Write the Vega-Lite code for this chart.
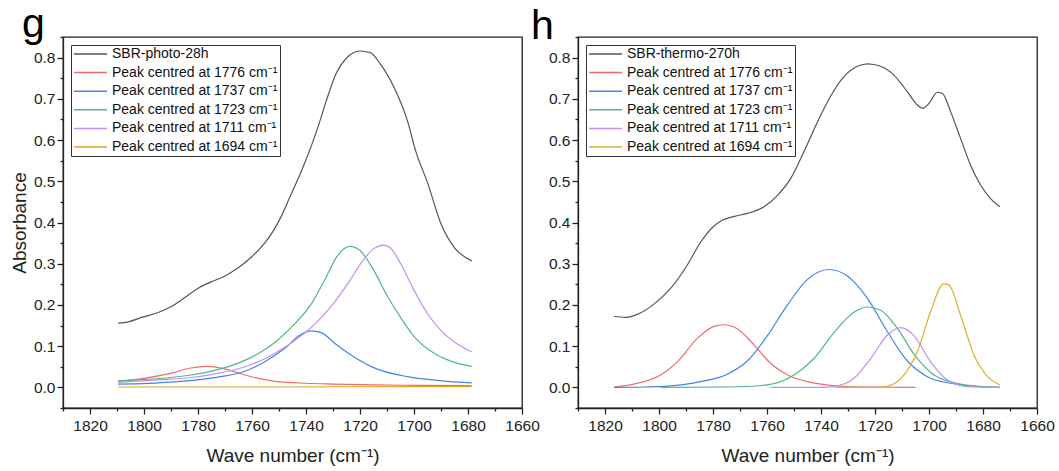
{
  "$schema": "https://vega.github.io/schema/vega-lite/v6.json",
  "padding": {"left": 9, "top": 3, "right": 2, "bottom": 2},
  "background": "white",
  "config": {
    "font": "Liberation Sans",
    "view": {"stroke": "#222", "strokeWidth": 1.3},
    "axis": {
      "labelFont": "Liberation Sans", "labelFontSize": 15.5, "labelColor": "#222",
      "titleFont": "Liberation Sans", "titleFontSize": 19, "titleFontWeight": "normal", "titleColor": "#222",
      "domainColor": "#222", "domainWidth": 1.3, "tickColor": "#222", "tickWidth": 1.3,
      "grid": false, "labelOverlap": false, "labelFlush": false, "labelPadding": 2
    },
    "legend": {
      "orient": "top-left", "offset": 8, "padding": 2, "strokeColor": "#333", "fillColor": "white",
      "labelFont": "Liberation Sans", "labelFontSize": 14, "labelColor": "#111", "labelLimit": 400,
      "symbolType": "stroke", "symbolSize": 1089, "symbolStrokeWidth": 1.5,
      "clipHeight": 14, "rowPadding": 4.6, "labelOffset": 4
    },
    "title": {"font": "Liberation Sans", "fontWeight": "normal", "fontSize": 41, "color": "#000", "anchor": "start", "frame": "group"}
  },
  "datasets": {
    "g": [
      {"s": "SBR-photo-28h", "x": 1809.6, "y": 0.156},
      {"s": "SBR-photo-28h", "x": 1807.5, "y": 0.157},
      {"s": "SBR-photo-28h", "x": 1800.2, "y": 0.171},
      {"s": "SBR-photo-28h", "x": 1795, "y": 0.181},
      {"s": "SBR-photo-28h", "x": 1790.2, "y": 0.195},
      {"s": "SBR-photo-28h", "x": 1784.6, "y": 0.219},
      {"s": "SBR-photo-28h", "x": 1780.1, "y": 0.24},
      {"s": "SBR-photo-28h", "x": 1775.1, "y": 0.256},
      {"s": "SBR-photo-28h", "x": 1770.7, "y": 0.268},
      {"s": "SBR-photo-28h", "x": 1765.1, "y": 0.29},
      {"s": "SBR-photo-28h", "x": 1760.1, "y": 0.317},
      {"s": "SBR-photo-28h", "x": 1755.1, "y": 0.352},
      {"s": "SBR-photo-28h", "x": 1752.3, "y": 0.378},
      {"s": "SBR-photo-28h", "x": 1749.3, "y": 0.413},
      {"s": "SBR-photo-28h", "x": 1746.3, "y": 0.457},
      {"s": "SBR-photo-28h", "x": 1741.3, "y": 0.531},
      {"s": "SBR-photo-28h", "x": 1735.7, "y": 0.629},
      {"s": "SBR-photo-28h", "x": 1732.5, "y": 0.695},
      {"s": "SBR-photo-28h", "x": 1728.8, "y": 0.762},
      {"s": "SBR-photo-28h", "x": 1725.0, "y": 0.799},
      {"s": "SBR-photo-28h", "x": 1720.0, "y": 0.816},
      {"s": "SBR-photo-28h", "x": 1716.2, "y": 0.812},
      {"s": "SBR-photo-28h", "x": 1712.5, "y": 0.785},
      {"s": "SBR-photo-28h", "x": 1707.4, "y": 0.728},
      {"s": "SBR-photo-28h", "x": 1702.4, "y": 0.646},
      {"s": "SBR-photo-28h", "x": 1699.3, "y": 0.572},
      {"s": "SBR-photo-28h", "x": 1694.9, "y": 0.495},
      {"s": "SBR-photo-28h", "x": 1689.9, "y": 0.395},
      {"s": "SBR-photo-28h", "x": 1684.9, "y": 0.338},
      {"s": "SBR-photo-28h", "x": 1678.6, "y": 0.307},
      {"s": "Peak centred at 1776 cm⁻¹", "x": 1809.6, "y": 0.015},
      {"s": "Peak centred at 1776 cm⁻¹", "x": 1800.2, "y": 0.022},
      {"s": "Peak centred at 1776 cm⁻¹", "x": 1790.2, "y": 0.034},
      {"s": "Peak centred at 1776 cm⁻¹", "x": 1782.7, "y": 0.047},
      {"s": "Peak centred at 1776 cm⁻¹", "x": 1776.4, "y": 0.051},
      {"s": "Peak centred at 1776 cm⁻¹", "x": 1770.1, "y": 0.045},
      {"s": "Peak centred at 1776 cm⁻¹", "x": 1762.6, "y": 0.03},
      {"s": "Peak centred at 1776 cm⁻¹", "x": 1752.6, "y": 0.016},
      {"s": "Peak centred at 1776 cm⁻¹", "x": 1740, "y": 0.01},
      {"s": "Peak centred at 1776 cm⁻¹", "x": 1730, "y": 0.008},
      {"s": "Peak centred at 1776 cm⁻¹", "x": 1715, "y": 0.006},
      {"s": "Peak centred at 1776 cm⁻¹", "x": 1700, "y": 0.005},
      {"s": "Peak centred at 1776 cm⁻¹", "x": 1678.6, "y": 0.004},
      {"s": "Peak centred at 1737 cm⁻¹", "x": 1809.6, "y": 0.008},
      {"s": "Peak centred at 1737 cm⁻¹", "x": 1790, "y": 0.013},
      {"s": "Peak centred at 1737 cm⁻¹", "x": 1772.6, "y": 0.025},
      {"s": "Peak centred at 1737 cm⁻¹", "x": 1762.6, "y": 0.039},
      {"s": "Peak centred at 1737 cm⁻¹", "x": 1755.1, "y": 0.063},
      {"s": "Peak centred at 1737 cm⁻¹", "x": 1747.6, "y": 0.096},
      {"s": "Peak centred at 1737 cm⁻¹", "x": 1742.6, "y": 0.125},
      {"s": "Peak centred at 1737 cm⁻¹", "x": 1738.2, "y": 0.137},
      {"s": "Peak centred at 1737 cm⁻¹", "x": 1734.4, "y": 0.133},
      {"s": "Peak centred at 1737 cm⁻¹", "x": 1728.8, "y": 0.104},
      {"s": "Peak centred at 1737 cm⁻¹", "x": 1722.5, "y": 0.075},
      {"s": "Peak centred at 1737 cm⁻¹", "x": 1715, "y": 0.048},
      {"s": "Peak centred at 1737 cm⁻¹", "x": 1702.4, "y": 0.026},
      {"s": "Peak centred at 1737 cm⁻¹", "x": 1689.9, "y": 0.016},
      {"s": "Peak centred at 1737 cm⁻¹", "x": 1678.6, "y": 0.011},
      {"s": "Peak centred at 1723 cm⁻¹", "x": 1809.6, "y": 0.016},
      {"s": "Peak centred at 1723 cm⁻¹", "x": 1800, "y": 0.019},
      {"s": "Peak centred at 1723 cm⁻¹", "x": 1790, "y": 0.024},
      {"s": "Peak centred at 1723 cm⁻¹", "x": 1782.7, "y": 0.03},
      {"s": "Peak centred at 1723 cm⁻¹", "x": 1772.6, "y": 0.043},
      {"s": "Peak centred at 1723 cm⁻¹", "x": 1765.1, "y": 0.059},
      {"s": "Peak centred at 1723 cm⁻¹", "x": 1757.6, "y": 0.082},
      {"s": "Peak centred at 1723 cm⁻¹", "x": 1751.3, "y": 0.11},
      {"s": "Peak centred at 1723 cm⁻¹", "x": 1745.1, "y": 0.148},
      {"s": "Peak centred at 1723 cm⁻¹", "x": 1737.6, "y": 0.207},
      {"s": "Peak centred at 1723 cm⁻¹", "x": 1732.5, "y": 0.268},
      {"s": "Peak centred at 1723 cm⁻¹", "x": 1728.8, "y": 0.315},
      {"s": "Peak centred at 1723 cm⁻¹", "x": 1723.7, "y": 0.342},
      {"s": "Peak centred at 1723 cm⁻¹", "x": 1720, "y": 0.332},
      {"s": "Peak centred at 1723 cm⁻¹", "x": 1715, "y": 0.285},
      {"s": "Peak centred at 1723 cm⁻¹", "x": 1710, "y": 0.223},
      {"s": "Peak centred at 1723 cm⁻¹", "x": 1705, "y": 0.17},
      {"s": "Peak centred at 1723 cm⁻¹", "x": 1700, "y": 0.124},
      {"s": "Peak centred at 1723 cm⁻¹", "x": 1692.4, "y": 0.082},
      {"s": "Peak centred at 1723 cm⁻¹", "x": 1686.1, "y": 0.063},
      {"s": "Peak centred at 1723 cm⁻¹", "x": 1678.6, "y": 0.051},
      {"s": "Peak centred at 1711 cm⁻¹", "x": 1809.6, "y": 0.012},
      {"s": "Peak centred at 1711 cm⁻¹", "x": 1795, "y": 0.018},
      {"s": "Peak centred at 1711 cm⁻¹", "x": 1782.7, "y": 0.024},
      {"s": "Peak centred at 1711 cm⁻¹", "x": 1772.6, "y": 0.034},
      {"s": "Peak centred at 1711 cm⁻¹", "x": 1762.6, "y": 0.05},
      {"s": "Peak centred at 1711 cm⁻¹", "x": 1755.1, "y": 0.07},
      {"s": "Peak centred at 1711 cm⁻¹", "x": 1746.3, "y": 0.104},
      {"s": "Peak centred at 1711 cm⁻¹", "x": 1737.6, "y": 0.148},
      {"s": "Peak centred at 1711 cm⁻¹", "x": 1730, "y": 0.202},
      {"s": "Peak centred at 1711 cm⁻¹", "x": 1723.7, "y": 0.26},
      {"s": "Peak centred at 1711 cm⁻¹", "x": 1718.7, "y": 0.31},
      {"s": "Peak centred at 1711 cm⁻¹", "x": 1715, "y": 0.336},
      {"s": "Peak centred at 1711 cm⁻¹", "x": 1711.2, "y": 0.345},
      {"s": "Peak centred at 1711 cm⁻¹", "x": 1708.7, "y": 0.338},
      {"s": "Peak centred at 1711 cm⁻¹", "x": 1705, "y": 0.301},
      {"s": "Peak centred at 1711 cm⁻¹", "x": 1700, "y": 0.236},
      {"s": "Peak centred at 1711 cm⁻¹", "x": 1694.9, "y": 0.178},
      {"s": "Peak centred at 1711 cm⁻¹", "x": 1689.9, "y": 0.137},
      {"s": "Peak centred at 1711 cm⁻¹", "x": 1683.7, "y": 0.104},
      {"s": "Peak centred at 1711 cm⁻¹", "x": 1678.6, "y": 0.086},
      {"s": "Peak centred at 1694 cm⁻¹", "x": 1809.6, "y": 0.001},
      {"s": "Peak centred at 1694 cm⁻¹", "x": 1750, "y": 0.001},
      {"s": "Peak centred at 1694 cm⁻¹", "x": 1700, "y": 0.002},
      {"s": "Peak centred at 1694 cm⁻¹", "x": 1694, "y": 0.002},
      {"s": "Peak centred at 1694 cm⁻¹", "x": 1678.6, "y": 0.002}
    ],
    "h": [
      {"s": "SBR-thermo-270h", "x": 1816.7, "y": 0.172},
      {"s": "SBR-thermo-270h", "x": 1812.3, "y": 0.17},
      {"s": "SBR-thermo-270h", "x": 1808, "y": 0.177},
      {"s": "SBR-thermo-270h", "x": 1801.9, "y": 0.202},
      {"s": "SBR-thermo-270h", "x": 1795.7, "y": 0.24},
      {"s": "SBR-thermo-270h", "x": 1789.5, "y": 0.297},
      {"s": "SBR-thermo-270h", "x": 1784.6, "y": 0.352},
      {"s": "SBR-thermo-270h", "x": 1780.2, "y": 0.388},
      {"s": "SBR-thermo-270h", "x": 1776.4, "y": 0.406},
      {"s": "SBR-thermo-270h", "x": 1772, "y": 0.415},
      {"s": "SBR-thermo-270h", "x": 1767.3, "y": 0.422},
      {"s": "SBR-thermo-270h", "x": 1761.1, "y": 0.438},
      {"s": "SBR-thermo-270h", "x": 1756.1, "y": 0.466},
      {"s": "SBR-thermo-270h", "x": 1751.2, "y": 0.507},
      {"s": "SBR-thermo-270h", "x": 1746.3, "y": 0.572},
      {"s": "SBR-thermo-270h", "x": 1741.3, "y": 0.644},
      {"s": "SBR-thermo-270h", "x": 1736.4, "y": 0.707},
      {"s": "SBR-thermo-270h", "x": 1731.5, "y": 0.754},
      {"s": "SBR-thermo-270h", "x": 1726.5, "y": 0.779},
      {"s": "SBR-thermo-270h", "x": 1722.8, "y": 0.785},
      {"s": "SBR-thermo-270h", "x": 1717.9, "y": 0.779},
      {"s": "SBR-thermo-270h", "x": 1712.9, "y": 0.757},
      {"s": "SBR-thermo-270h", "x": 1708, "y": 0.717},
      {"s": "SBR-thermo-270h", "x": 1704.3, "y": 0.685},
      {"s": "SBR-thermo-270h", "x": 1702.4, "y": 0.677},
      {"s": "SBR-thermo-270h", "x": 1700, "y": 0.689},
      {"s": "SBR-thermo-270h", "x": 1696.9, "y": 0.716},
      {"s": "SBR-thermo-270h", "x": 1695, "y": 0.713},
      {"s": "SBR-thermo-270h", "x": 1692, "y": 0.669},
      {"s": "SBR-thermo-270h", "x": 1688.3, "y": 0.604},
      {"s": "SBR-thermo-270h", "x": 1684.6, "y": 0.539},
      {"s": "SBR-thermo-270h", "x": 1680.9, "y": 0.491},
      {"s": "SBR-thermo-270h", "x": 1677.2, "y": 0.458},
      {"s": "SBR-thermo-270h", "x": 1673.7, "y": 0.438},
      {"s": "Peak centred at 1776 cm⁻¹", "x": 1816.7, "y": 0.001},
      {"s": "Peak centred at 1776 cm⁻¹", "x": 1809.3, "y": 0.008},
      {"s": "Peak centred at 1776 cm⁻¹", "x": 1799.4, "y": 0.03},
      {"s": "Peak centred at 1776 cm⁻¹", "x": 1793.2, "y": 0.062},
      {"s": "Peak centred at 1776 cm⁻¹", "x": 1785.8, "y": 0.119},
      {"s": "Peak centred at 1776 cm⁻¹", "x": 1779.6, "y": 0.148},
      {"s": "Peak centred at 1776 cm⁻¹", "x": 1775.9, "y": 0.152},
      {"s": "Peak centred at 1776 cm⁻¹", "x": 1771, "y": 0.142},
      {"s": "Peak centred at 1776 cm⁻¹", "x": 1764.8, "y": 0.103},
      {"s": "Peak centred at 1776 cm⁻¹", "x": 1758.6, "y": 0.058},
      {"s": "Peak centred at 1776 cm⁻¹", "x": 1752.4, "y": 0.03},
      {"s": "Peak centred at 1776 cm⁻¹", "x": 1745, "y": 0.014},
      {"s": "Peak centred at 1776 cm⁻¹", "x": 1735, "y": 0.004},
      {"s": "Peak centred at 1776 cm⁻¹", "x": 1725, "y": 0.001},
      {"s": "Peak centred at 1776 cm⁻¹", "x": 1705, "y": 0.0},
      {"s": "Peak centred at 1737 cm⁻¹", "x": 1816.7, "y": 0.0},
      {"s": "Peak centred at 1737 cm⁻¹", "x": 1805, "y": 0.001},
      {"s": "Peak centred at 1737 cm⁻¹", "x": 1796.9, "y": 0.003},
      {"s": "Peak centred at 1737 cm⁻¹", "x": 1784.6, "y": 0.014},
      {"s": "Peak centred at 1737 cm⁻¹", "x": 1774.7, "y": 0.032},
      {"s": "Peak centred at 1737 cm⁻¹", "x": 1767.3, "y": 0.064},
      {"s": "Peak centred at 1737 cm⁻¹", "x": 1759.9, "y": 0.125},
      {"s": "Peak centred at 1737 cm⁻¹", "x": 1752.4, "y": 0.2},
      {"s": "Peak centred at 1737 cm⁻¹", "x": 1745, "y": 0.262},
      {"s": "Peak centred at 1737 cm⁻¹", "x": 1737, "y": 0.286},
      {"s": "Peak centred at 1737 cm⁻¹", "x": 1730.2, "y": 0.27},
      {"s": "Peak centred at 1737 cm⁻¹", "x": 1722.8, "y": 0.216},
      {"s": "Peak centred at 1737 cm⁻¹", "x": 1715.4, "y": 0.135},
      {"s": "Peak centred at 1737 cm⁻¹", "x": 1708, "y": 0.064},
      {"s": "Peak centred at 1737 cm⁻¹", "x": 1700.6, "y": 0.026},
      {"s": "Peak centred at 1737 cm⁻¹", "x": 1692, "y": 0.01},
      {"s": "Peak centred at 1737 cm⁻¹", "x": 1685, "y": 0.004},
      {"s": "Peak centred at 1737 cm⁻¹", "x": 1673.7, "y": 0.0},
      {"s": "Peak centred at 1723 cm⁻¹", "x": 1799.4, "y": 0.0},
      {"s": "Peak centred at 1723 cm⁻¹", "x": 1775, "y": 0.001},
      {"s": "Peak centred at 1723 cm⁻¹", "x": 1759.9, "y": 0.006},
      {"s": "Peak centred at 1723 cm⁻¹", "x": 1750, "y": 0.03},
      {"s": "Peak centred at 1723 cm⁻¹", "x": 1742.6, "y": 0.07},
      {"s": "Peak centred at 1723 cm⁻¹", "x": 1735.2, "y": 0.133},
      {"s": "Peak centred at 1723 cm⁻¹", "x": 1727.8, "y": 0.182},
      {"s": "Peak centred at 1723 cm⁻¹", "x": 1722.8, "y": 0.195},
      {"s": "Peak centred at 1723 cm⁻¹", "x": 1717.9, "y": 0.187},
      {"s": "Peak centred at 1723 cm⁻¹", "x": 1711.7, "y": 0.143},
      {"s": "Peak centred at 1723 cm⁻¹", "x": 1705.5, "y": 0.08},
      {"s": "Peak centred at 1723 cm⁻¹", "x": 1698.1, "y": 0.03},
      {"s": "Peak centred at 1723 cm⁻¹", "x": 1688.3, "y": 0.008},
      {"s": "Peak centred at 1723 cm⁻¹", "x": 1680, "y": 0.002},
      {"s": "Peak centred at 1723 cm⁻¹", "x": 1673.7, "y": 0.0},
      {"s": "Peak centred at 1711 cm⁻¹", "x": 1758.6, "y": 0.0},
      {"s": "Peak centred at 1711 cm⁻¹", "x": 1740, "y": 0.0},
      {"s": "Peak centred at 1711 cm⁻¹", "x": 1735.1, "y": 0.002},
      {"s": "Peak centred at 1711 cm⁻¹", "x": 1727.8, "y": 0.022},
      {"s": "Peak centred at 1711 cm⁻¹", "x": 1721.6, "y": 0.07},
      {"s": "Peak centred at 1711 cm⁻¹", "x": 1715.4, "y": 0.127},
      {"s": "Peak centred at 1711 cm⁻¹", "x": 1710.5, "y": 0.145},
      {"s": "Peak centred at 1711 cm⁻¹", "x": 1705.5, "y": 0.125},
      {"s": "Peak centred at 1711 cm⁻¹", "x": 1699.4, "y": 0.062},
      {"s": "Peak centred at 1711 cm⁻¹", "x": 1693.2, "y": 0.018},
      {"s": "Peak centred at 1711 cm⁻¹", "x": 1685.8, "y": 0.002},
      {"s": "Peak centred at 1711 cm⁻¹", "x": 1673.7, "y": 0.0},
      {"s": "Peak centred at 1694 cm⁻¹", "x": 1734.7, "y": 0.0},
      {"s": "Peak centred at 1694 cm⁻¹", "x": 1720, "y": 0.0},
      {"s": "Peak centred at 1694 cm⁻¹", "x": 1715.4, "y": 0.003},
      {"s": "Peak centred at 1694 cm⁻¹", "x": 1709.3, "y": 0.03},
      {"s": "Peak centred at 1694 cm⁻¹", "x": 1704.3, "y": 0.087},
      {"s": "Peak centred at 1694 cm⁻¹", "x": 1699.4, "y": 0.184},
      {"s": "Peak centred at 1694 cm⁻¹", "x": 1694.6, "y": 0.251},
      {"s": "Peak centred at 1694 cm⁻¹", "x": 1692.6, "y": 0.248},
      {"s": "Peak centred at 1694 cm⁻¹", "x": 1688.3, "y": 0.175},
      {"s": "Peak centred at 1694 cm⁻¹", "x": 1683.3, "y": 0.078},
      {"s": "Peak centred at 1694 cm⁻¹", "x": 1678.3, "y": 0.026},
      {"s": "Peak centred at 1694 cm⁻¹", "x": 1673.7, "y": 0.006}
    ]
  },
  "hconcat": [
    {
      "width": 459, "height": 371,
      "title": {"text": "g", "dx": -41, "offset": -16},
      "data": {"name": "g"},
      "mark": {"type": "line", "strokeWidth": 1.2, "interpolate": "monotone"},
      "encoding": {
        "x": {
          "field": "x", "type": "quantitative",
          "scale": {"domain": [1660, 1830], "reverse": true, "nice": false, "zero": false},
          "axis": {
            "title": "Wave number (cm⁻¹)", "titlePadding": 13, "labelPadding": 4, "format": "d",
            "values": [1660, 1670, 1680, 1690, 1700, 1710, 1720, 1730, 1740, 1750, 1760, 1770, 1780, 1790, 1800, 1810, 1820, 1830],
            "labelExpr": "datum.value % 20 === 0 ? datum.label : ''",
            "tickSize": {"condition": {"test": "datum.value % 20 === 0", "value": 6}, "value": 3}
          }
        },
        "y": {
          "field": "y", "type": "quantitative",
          "scale": {"domain": [-0.05, 0.85], "nice": false, "zero": false},
          "axis": {
            "title": "Absorbance", "titlePadding": 4,
            "values": [-0.05, 0, 0.05, 0.1, 0.15, 0.2, 0.25, 0.3, 0.35, 0.4, 0.45, 0.5, 0.55, 0.6, 0.65, 0.7, 0.75, 0.8, 0.85],
            "labelExpr": "round(datum.value * 100) % 10 === 0 ? format(datum.value, '.1f') : ''",
            "tickSize": {"condition": {"test": "round(datum.value * 100) % 10 === 0", "value": 6}, "value": 3}
          }
        },
        "color": {
          "field": "s", "type": "nominal",
          "scale": {
            "domain": ["SBR-photo-28h", "Peak centred at 1776 cm⁻¹", "Peak centred at 1737 cm⁻¹", "Peak centred at 1723 cm⁻¹", "Peak centred at 1711 cm⁻¹", "Peak centred at 1694 cm⁻¹"],
            "range": ["#555555", "#f26b6b", "#4385ea", "#4fb880", "#c290ee", "#e0a61e"]
          },
          "legend": {"title": null}
        }
      }
    },
    {
      "width": 459, "height": 371,
      "title": {"text": "h", "dx": -47, "offset": -18},
      "data": {"name": "h"},
      "mark": {"type": "line", "strokeWidth": 1.2, "interpolate": "monotone"},
      "encoding": {
        "x": {
          "field": "x", "type": "quantitative",
          "scale": {"domain": [1660, 1830], "reverse": true, "nice": false, "zero": false},
          "axis": {
            "title": "Wave number (cm⁻¹)", "titlePadding": 13, "labelPadding": 4, "format": "d",
            "values": [1660, 1670, 1680, 1690, 1700, 1710, 1720, 1730, 1740, 1750, 1760, 1770, 1780, 1790, 1800, 1810, 1820, 1830],
            "labelExpr": "datum.value % 20 === 0 ? datum.label : ''",
            "tickSize": {"condition": {"test": "datum.value % 20 === 0", "value": 6}, "value": 3}
          }
        },
        "y": {
          "field": "y", "type": "quantitative",
          "scale": {"domain": [-0.05, 0.85], "nice": false, "zero": false},
          "axis": {
            "title": null,
            "values": [-0.05, 0, 0.05, 0.1, 0.15, 0.2, 0.25, 0.3, 0.35, 0.4, 0.45, 0.5, 0.55, 0.6, 0.65, 0.7, 0.75, 0.8, 0.85],
            "labelExpr": "round(datum.value * 100) % 10 === 0 ? format(datum.value, '.1f') : ''",
            "tickSize": {"condition": {"test": "round(datum.value * 100) % 10 === 0", "value": 6}, "value": 3}
          }
        },
        "color": {
          "field": "s", "type": "nominal",
          "scale": {
            "domain": ["SBR-thermo-270h", "Peak centred at 1776 cm⁻¹", "Peak centred at 1737 cm⁻¹", "Peak centred at 1723 cm⁻¹", "Peak centred at 1711 cm⁻¹", "Peak centred at 1694 cm⁻¹"],
            "range": ["#555555", "#f26b6b", "#4385ea", "#4fb880", "#c290ee", "#e0ae30"]
          },
          "legend": {"title": null}
        }
      }
    }
  ],
  "spacing": 56,
  "bounds": "flush",
  "resolve": {"scale": {"color": "independent", "x": "independent", "y": "independent"}}
}
